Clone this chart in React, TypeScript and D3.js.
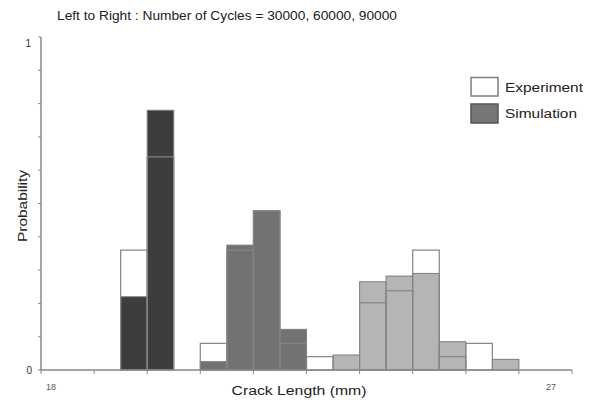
import React from "react";
import * as d3 from "d3";

// Histogram bins: crack length axis from 18 to 27 mm, bins 0.45 mm wide
const axisMin = 18;
const axisMax = 27;
const binWidth = 0.45;
const yTicks = [0, 0.1, 0.2, 0.3, 0.4, 0.5, 0.6, 0.7, 0.8, 0.9, 1];

// 30000 cycles
const bins30k = [3, 4];
const sim30k = [0.22, 0.78];
const exp30k = [0.36, 0.64];

// 60000 cycles
const bins60k = [6, 7, 8, 9];
const sim60k = [0.025, 0.375, 0.478, 0.122];
const exp60k = [0.08, 0.36, 0.478, 0.08];

// 90000 cycles
const bins90k = [10, 11, 12, 13, 14, 15, 16, 17];
const sim90k = [0, 0.045, 0.265, 0.282, 0.29, 0.085, 0, 0.032];
const exp90k = [0.04, 0, 0.202, 0.238, 0.36, 0.04, 0.08, 0];

const groupColors = ["#3d3d3d", "#727272", "#b5b5b5"];
const legendLabels = ["Experiment", "Simulation"];
const titleText = "Left to Right : Number of Cycles = 30000, 60000, 90000";

const W = 595;
const H = 405;

export default function App() {
  const x = d3.scaleLinear().domain([axisMin, axisMax]).range([41, 572]);
  const y = d3.scaleLinear().domain([0, 1]).range([370, 37]);

  const groups = [
    { bins: bins30k, sim: sim30k, exp: exp30k },
    { bins: bins60k, sim: sim60k, exp: exp60k },
    { bins: bins90k, sim: sim90k, exp: exp90k },
  ];

  const xTicks = d3.range(axisMin, axisMax + 0.001, binWidth * 2);
  const font = "'Liberation Sans', Arial, sans-serif";

  return (
    <svg
      width={W}
      height={H}
      style={{ position: "fixed", left: 0, top: 0, background: "#fff" }}
      fontFamily={font}
    >
      <rect width={W} height={H} fill="#fff" />
      <text x={57} y={19.5} fontSize={12.5} fill="#222" textLength={340} lengthAdjust="spacingAndGlyphs">
        {titleText}
      </text>

      {/* simulation bars */}
      {groups.map((g, gi) =>
        g.bins.map((b, i) => {
          const x0 = x(axisMin + b * binWidth);
          const x1 = x(axisMin + (b + 1) * binWidth);
          const v = g.sim[i];
          if (!v) return null;
          return (
            <rect
              key={`s${gi}-${i}`}
              x={x0}
              y={y(v)}
              width={x1 - x0}
              height={y(0) - y(v)}
              fill={groupColors[gi]}
              stroke="#7d7d7d"
              strokeWidth={1}
            />
          );
        })
      )}

      {/* experiment outlines */}
      {groups.map((g, gi) =>
        g.bins.map((b, i) => {
          const x0 = x(axisMin + b * binWidth);
          const x1 = x(axisMin + (b + 1) * binWidth);
          const v = g.exp[i];
          if (!v) return null;
          return (
            <rect
              key={`e${gi}-${i}`}
              x={x0}
              y={y(v)}
              width={x1 - x0}
              height={y(0) - y(v)}
              fill="none"
              stroke="#858585"
              strokeWidth={1.2}
            />
          );
        })
      )}

      {/* axes */}
      <line x1={x(axisMin)} x2={x(axisMin)} y1={y(1)} y2={y(0)} stroke="#888" strokeWidth={1.5} />
      <line x1={x(axisMin)} x2={x(axisMax)} y1={y(0)} y2={y(0)} stroke="#888" strokeWidth={1.5} />
      {yTicks.map((t) => (
        <line key={`yt${t}`} x1={x(axisMin) - 3} x2={x(axisMin)} y1={y(t)} y2={y(t)} stroke="#888" strokeWidth={1} />
      ))}
      {xTicks.map((t) => (
        <line key={`xt${t}`} x1={x(t)} x2={x(t)} y1={y(0)} y2={y(0) + 4} stroke="#888" strokeWidth={1} />
      ))}

      <text x={x(axisMin) - 10} y={y(1) + 10} fontSize={10} fill="#333" textAnchor="end">1</text>
      <text x={x(axisMin) - 9} y={y(0) + 4} fontSize={10} fill="#333" textAnchor="end">0</text>
      <text x={x(axisMin) + 10} y={y(0) + 20} fontSize={9} fill="#555" textAnchor="middle">{axisMin}</text>
      <text x={x(axisMax) - 21} y={y(0) + 20} fontSize={9} fill="#555" textAnchor="middle">{axisMax}</text>

      <text x={231.5} y={394.5} fontSize={12.5} fill="#222" textLength={135} lengthAdjust="spacingAndGlyphs">
        Crack Length (mm)
      </text>
      <text
        transform={`translate(27, 242) rotate(-90)`}
        fontSize={12.5}
        fill="#222"
        textLength={72}
        lengthAdjust="spacingAndGlyphs"
      >
        Probability
      </text>

      {/* legend */}
      <rect x={471} y={77.5} width={27} height={18.5} fill="#fff" stroke="#7d7d7d" strokeWidth={1.5} />
      <rect x={471} y={104} width={27} height={19} fill="#777" stroke="#555" strokeWidth={1.5} />
      <text x={505} y={91.5} fontSize={12.5} fill="#222" textLength={78} lengthAdjust="spacingAndGlyphs">{legendLabels[0]}</text>
      <text x={505} y={118} fontSize={12.5} fill="#222" textLength={72} lengthAdjust="spacingAndGlyphs">{legendLabels[1]}</text>
    </svg>
  );
}
